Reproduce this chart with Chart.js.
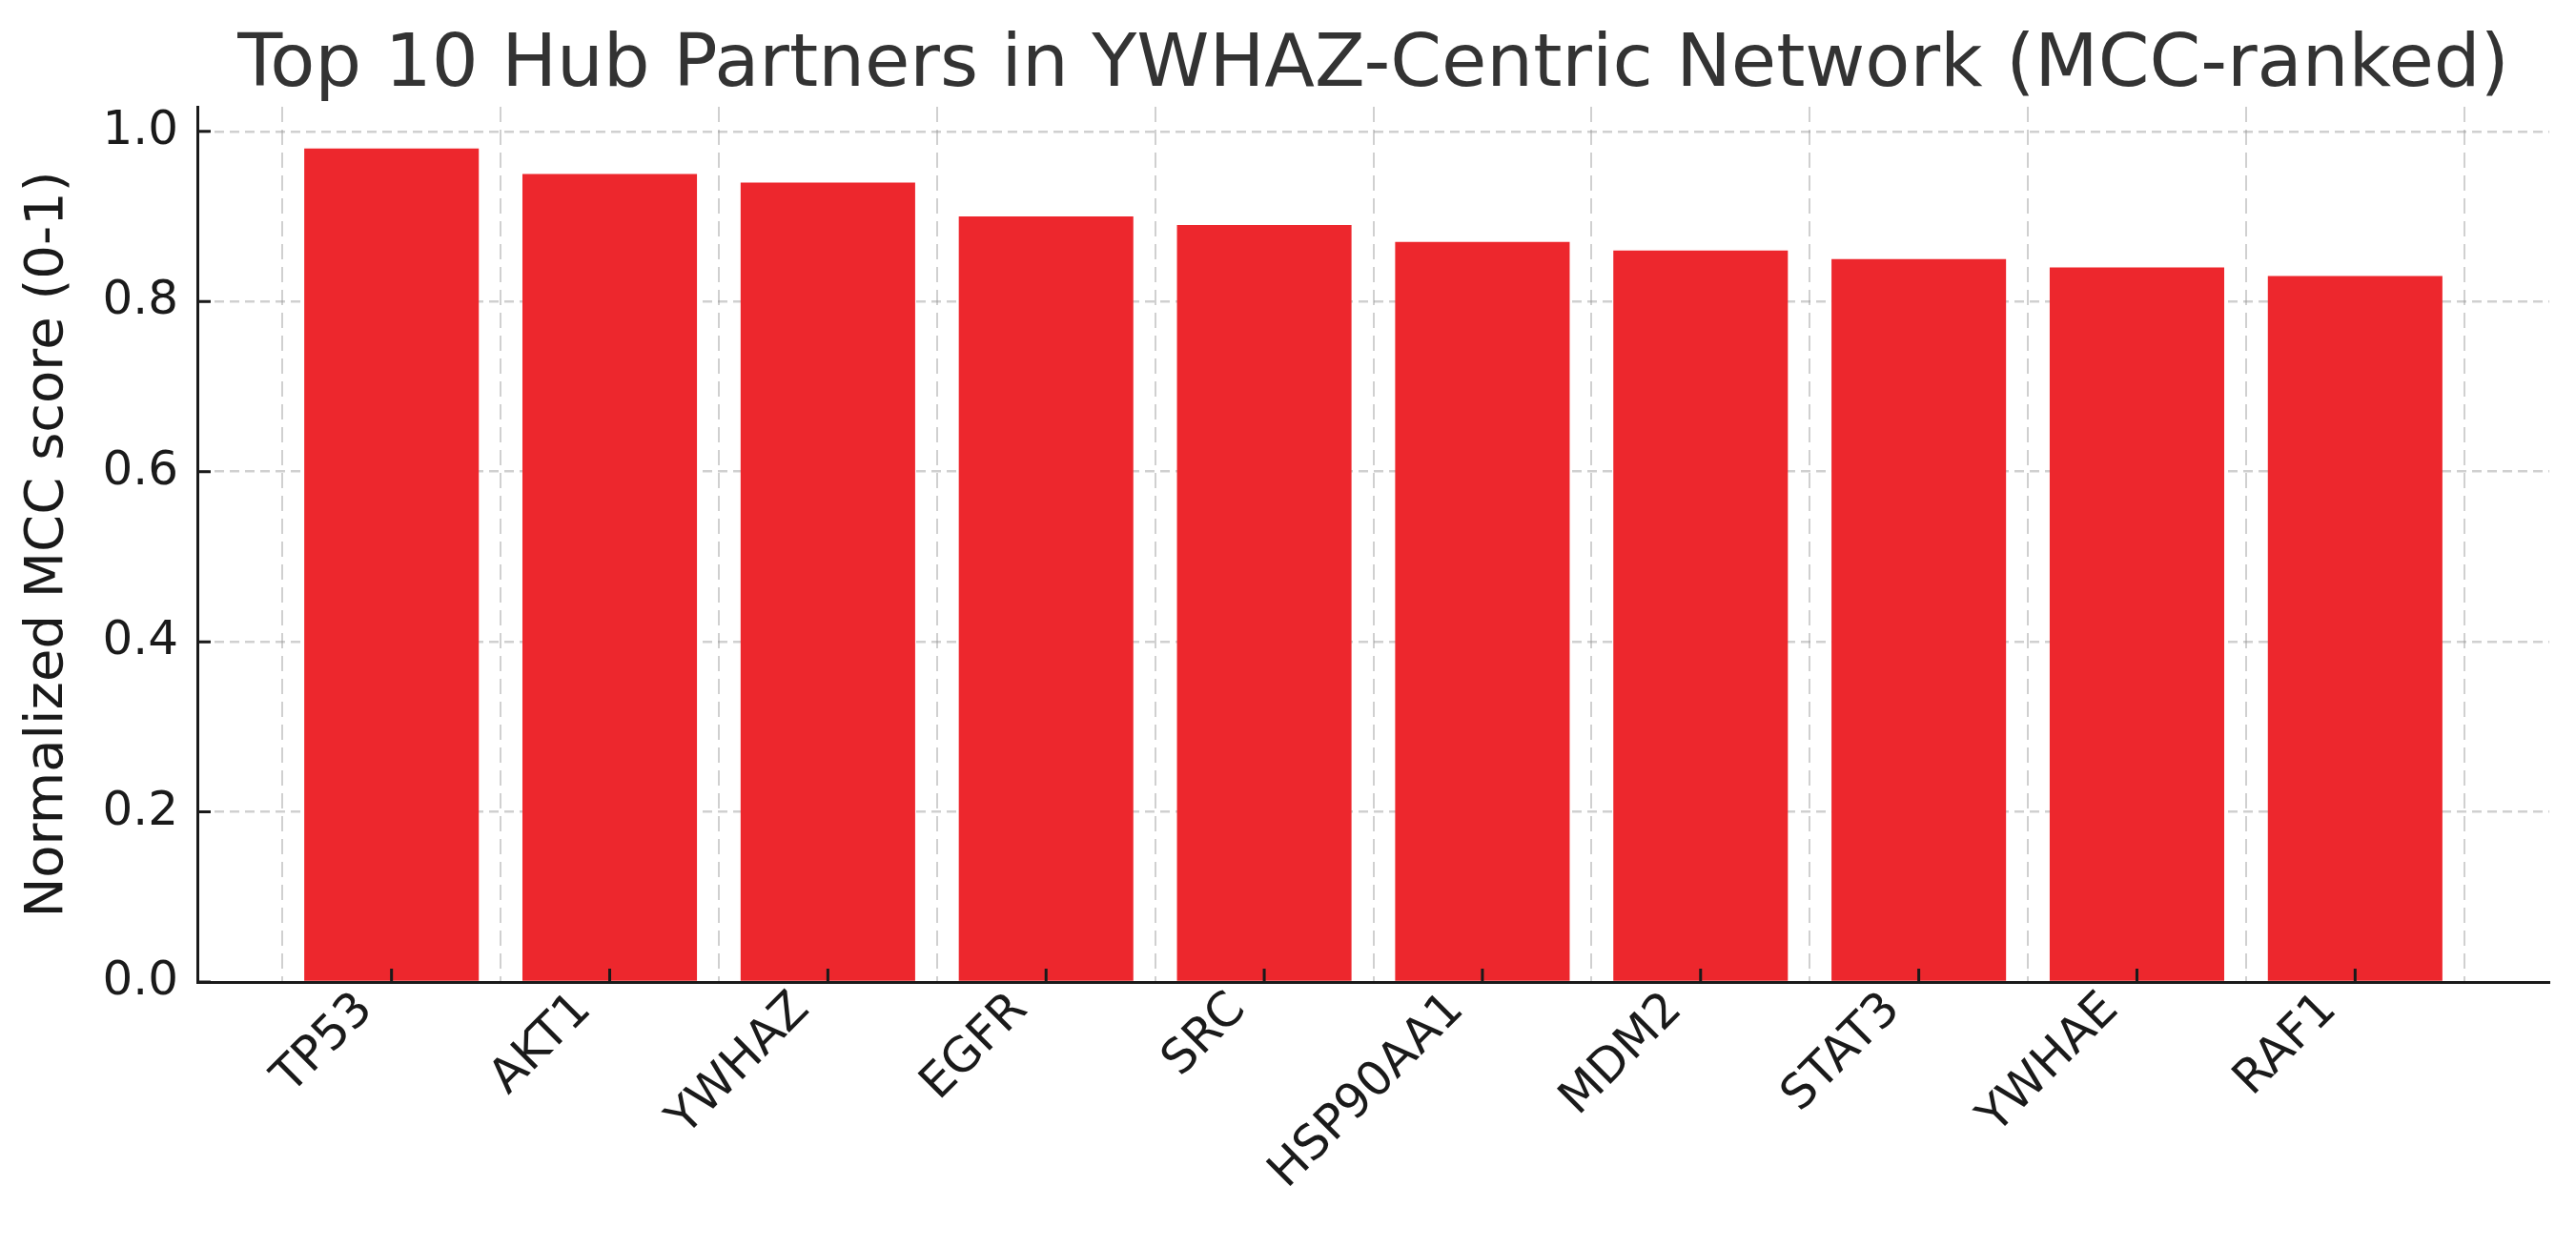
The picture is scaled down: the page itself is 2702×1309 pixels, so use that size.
<!DOCTYPE html>
<html><head><meta charset="utf-8">
<script src="https://cdn.jsdelivr.net/npm/chart.js@4.4.0/dist/chart.umd.min.js"></script>
<style>html,body{margin:0;padding:0;background:#fff}#wrap{width:2702px;height:1309px}</style>
</head><body><div id="wrap"><canvas id="c" width="2702" height="1309"></canvas></div>
<script>
const categories = ['TP53','AKT1','YWHAZ','EGFR','SRC','HSP90AA1','MDM2','STAT3','YWHAE','RAF1'];
const mccScores = [0.98,0.95,0.94,0.90,0.89,0.87,0.86,0.85,0.84,0.83];
const yTickValues = [0,0.2,0.4,0.6,0.8,1.0];
const titleText = 'Top 10 Hub Partners in YWHAZ-Centric Network (MCC-ranked)';
const yAxisTitle = 'Normalized MCC score (0-1)';

const FONT = "'DejaVu Sans', sans-serif";
const TEXT = '#1a1a1a';
const GRID = 'rgba(150,150,150,0.45)';

const inwardTicks = {
  id: 'inwardTicks',
  afterDraw(chart) {
    const {ctx, chartArea: a, scales: {x, y}} = chart;
    ctx.save();
    ctx.strokeStyle = TEXT; ctx.lineWidth = 3;
    ctx.beginPath();
    y.ticks.forEach(t => { const p = y.getPixelForValue(t.value); ctx.moveTo(a.left, p); ctx.lineTo(a.left + 14, p); });
    x.ticks.forEach(t => { const p = x.getPixelForValue(t.value); ctx.moveTo(p, a.bottom); ctx.lineTo(p, a.bottom - 14); });
    ctx.stroke();
    ctx.restore();
  }
};

// Title centred over the plotting area (as in the reference), drawn as canvas text
const axesTitle = {
  id: 'axesTitle',
  afterDraw(chart) {
    const {ctx, chartArea: a} = chart;
    ctx.save();
    ctx.font = "normal 77px " + FONT;
    ctx.fillStyle = '#333333';
    ctx.textAlign = 'center';
    ctx.textBaseline = 'middle';
    ctx.fillText(titleText, (a.left + a.right) / 2, 70);
    ctx.restore();
  }
};

new Chart(document.getElementById('c'), {
  type: 'bar',
  data: {
    datasets: [{
      data: mccScores.map((v, i) => ({x: i, y: v})),
      backgroundColor: '#ED272D',
      borderWidth: 0,
      barPercentage: 0.8,
      categoryPercentage: 1
    }]
  },
  options: {
    responsive: false, animation: false, devicePixelRatio: 1,
    layout: {padding: {left: 0, right: 28, top: 112, bottom: 0}},
    plugins: {
      legend: {display: false}, tooltip: {enabled: false}, title: {display: false}
    },
    scales: {
      x: {
        type: 'linear', min: -0.89, max: 9.89, offset: false, z: 1,
        afterBuildTicks: s => { s.ticks = categories.map((_, i) => ({value: i})); },
        afterFit: s => { s.height = 279; },
        ticks: {callback: v => categories[v], autoSkip: false, minRotation: 45, maxRotation: 45,
          font: {family: FONT, size: 50}, color: TEXT, padding: 0, labelOffset: -27},
        grid: {color: GRID, lineWidth: 2, drawTicks: false, tickLength: 0},
        border: {display: true, color: TEXT, width: 3, dash: [16, 8]}
      },
      y: {
        min: 0, max: 1.029, z: 1,
        afterBuildTicks: s => { s.ticks = yTickValues.map(v => ({value: v})); },
        afterFit: s => { s.width = 207; },
        ticks: {callback: v => v.toFixed(1), font: {family: FONT, size: 50}, color: TEXT, padding: 20},
        grid: {color: GRID, lineWidth: 2.5, drawTicks: false, tickLength: 0},
        border: {display: true, color: TEXT, width: 3, dash: [10, 6]},
        title: {display: true, text: yAxisTitle, color: TEXT,
          font: {family: FONT, size: 56}, padding: {top: 17, bottom: 0}}
      }
    }
  },
  plugins: [inwardTicks, axesTitle]
});
</script>
</body></html>
